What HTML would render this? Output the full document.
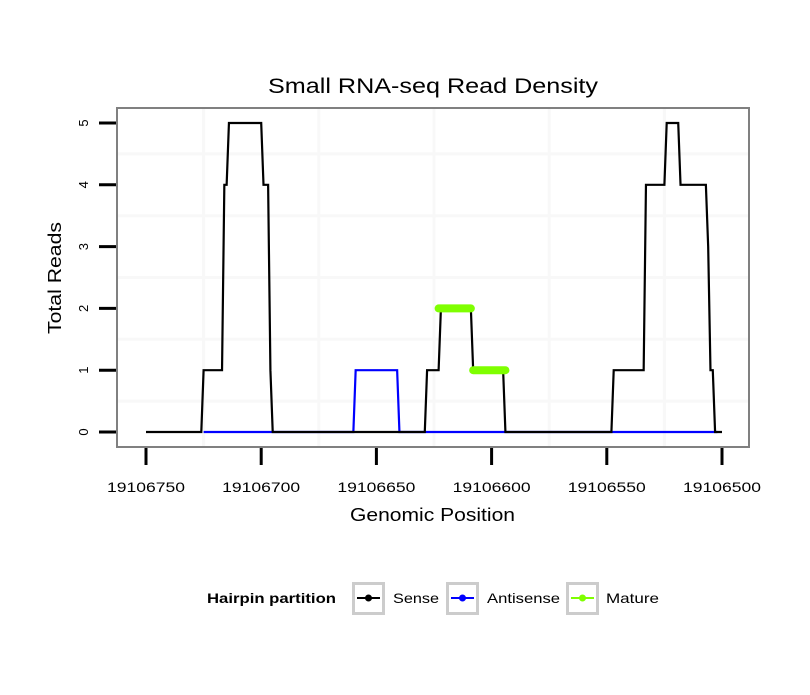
<!DOCTYPE html>
<html><head><meta charset="utf-8"><style>
body{margin:0;background:#fff;font-family:"Liberation Sans",sans-serif;}
svg text{font-family:"Liberation Sans",sans-serif;}
</style></head><body>
<svg id="chart" width="810" height="690">
<rect x="0" y="0" width="810" height="690" fill="#fff"/>
<g id="grid"></g>
<g id="series"></g>
<rect x="117" y="108" width="632" height="339" fill="none" stroke="#808080" stroke-width="2"/>
<g id="axes"></g>
<text x="268" y="93" font-size="21" textLength="330" lengthAdjust="spacingAndGlyphs">Small RNA-seq Read Density</text>
<text x="350" y="521" font-size="18" textLength="165" lengthAdjust="spacingAndGlyphs">Genomic Position</text>
<text transform="translate(61,334) rotate(-90)" font-size="18" textLength="112" lengthAdjust="spacingAndGlyphs">Total Reads</text>
<g>
<text x="207" y="603" font-size="14" font-weight="bold" textLength="129" lengthAdjust="spacingAndGlyphs">Hairpin partition</text>
<g>
<rect x="353.5" y="583.5" width="30" height="30" fill="#fff" stroke="#ccc" stroke-width="3"/>
<line x1="357" y1="598" x2="380" y2="598" stroke="#000" stroke-width="2"/><circle cx="368.5" cy="598" r="3.5" fill="#000"/>
<text x="393" y="603" font-size="14" textLength="46" lengthAdjust="spacingAndGlyphs">Sense</text></g>
<g>
<rect x="447.5" y="583.5" width="30" height="30" fill="#fff" stroke="#ccc" stroke-width="3"/>
<line x1="451" y1="598" x2="474" y2="598" stroke="#00f" stroke-width="2"/><circle cx="462.5" cy="598" r="3.5" fill="#00f"/>
<text x="487" y="603" font-size="14" textLength="73" lengthAdjust="spacingAndGlyphs">Antisense</text></g>
<g>
<rect x="567.5" y="583.5" width="30" height="30" fill="#fff" stroke="#ccc" stroke-width="3"/>
<line x1="571" y1="598" x2="594" y2="598" stroke="#7fff00" stroke-width="2"/><circle cx="582.5" cy="598" r="3.5" fill="#7fff00"/>
<text x="606" y="603" font-size="14" textLength="53" lengthAdjust="spacingAndGlyphs">Mature</text></g>
</g>
</svg>
<script>
const senseX=[19106750,19106726,19106725,19106717,19106716,19106715,19106714,19106700,19106699,19106697,19106696,19106695,19106629,19106628,19106623,19106622,19106609,19106608,19106595,19106594,19106548,19106547,19106534,19106533,19106525,19106524,19106519,19106518,19106507,19106506,19106505,19106504,19106503,19106500];
const senseY=[0,0,1,1,4,4,5,5,4,4,1,0,0,1,1,2,2,1,1,0,0,1,1,4,4,5,5,4,4,3,1,1,0,0];
const antiX=[19106725,19106660,19106659,19106641,19106640,19106502];
const antiY=[0,0,1,1,0,0];
const matureX=[[19106623,19106609],[19106608,19106594]];
const matureY=[2,1];
const xTicks=[19106750,19106700,19106650,19106600,19106550,19106500];
const yTicks=[0,1,2,3,4,5];
const xGrid=[19106725,19106675,19106625,19106575,19106525];
const yGrid=[0.5,1.5,2.5,3.5,4.5];
const NS='http://www.w3.org/2000/svg';
function xs(p){return 146+(19106750-p)*2.304;}
function ys(v){return 432-v*61.8;}
function mk(tag,attrs,parent){const e=document.createElementNS(NS,tag);for(const k in attrs)e.setAttribute(k,attrs[k]);parent.appendChild(e);return e;}
const grid=document.getElementById('grid'),series=document.getElementById('series'),axes=document.getElementById('axes');
xGrid.forEach(p=>{const l=mk('line',{x1:xs(p),x2:xs(p),y1:109,y2:446,stroke:'#f8f8f8','stroke-width':3},grid);

});
yGrid.forEach(v=>{const l=mk('line',{x1:118,x2:748,y1:ys(v),y2:ys(v),stroke:'#f8f8f8','stroke-width':3},grid);

});
function pts(X,Y){return X.map((x,i)=>xs(x)+','+ys(Y[i])).join(' ');}
const a=mk('polyline',{points:pts(antiX,antiY),fill:'none',stroke:'#00f','stroke-width':2.2},series);


const s=mk('polyline',{points:pts(senseX,senseY),fill:'none',stroke:'#000','stroke-width':2.2},series);


matureX.forEach((r,i)=>{const m=mk('line',{x1:xs(r[0]),x2:xs(r[1]),y1:ys(matureY[i]),y2:ys(matureY[i]),stroke:'#7fff00','stroke-width':8,'stroke-linecap':'round'},series);

});
xTicks.forEach(p=>{const t=mk('line',{x1:xs(p),x2:xs(p),y1:448,y2:465,stroke:'#000','stroke-width':3},axes);


const l=mk('text',{x:xs(p)-39,y:492,'font-size':14,textLength:78,lengthAdjust:'spacingAndGlyphs'},axes);l.textContent=p;

});
yTicks.forEach(v=>{const t=mk('line',{x1:99,x2:116,y1:ys(v),y2:ys(v),stroke:'#000','stroke-width':3},axes);


const l=mk('text',{transform:'translate(88,'+ys(v)+') rotate(-90)','text-anchor':'middle','font-size':13},axes);l.textContent=v;

});
</script>
</body></html>
